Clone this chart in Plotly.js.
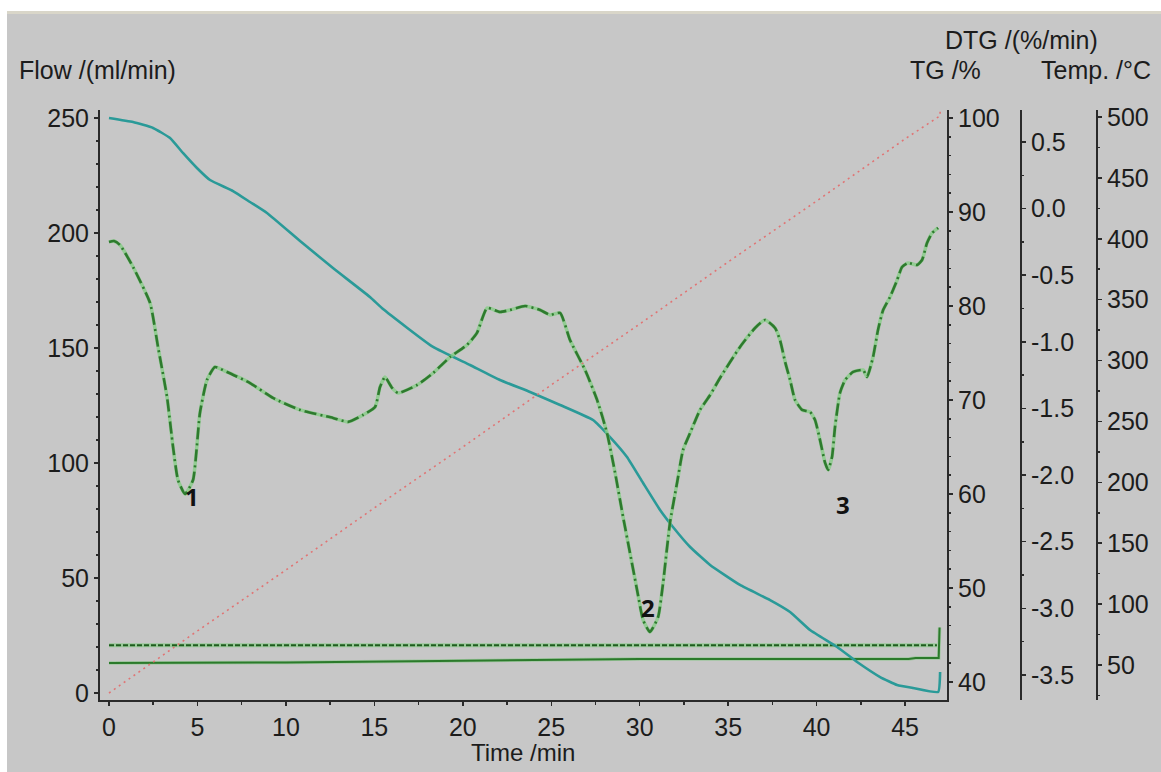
<!DOCTYPE html>
<html>
<head>
<meta charset="utf-8">
<script src="https://cdn.plot.ly/plotly-3.0.1.min.js"></script>
<style>
  html, body { margin: 0; padding: 0; background: #ffffff; }
  #chart { width: 1161px; height: 772px; }
  .topstrip { position: absolute; left: 0; top: 0; width: 1161px; height: 11px; background: #ffffff; z-index: 5; }
  .topline { position: absolute; left: 0; top: 11px; width: 1161px; height: 3px; background: #d9d6c9; z-index: 5; }
  .leftstrip { position: absolute; left: 0; top: 0; width: 7px; height: 772px; background: #ffffff; z-index: 5; }
</style>
</head>
<body>
<div id="chart"></div>
<div class="topstrip"></div>
<div class="topline"></div>
<div class="leftstrip"></div>
<script>
// ---- Data ----
// TG curve (teal), TG /%
const timeTG = [0, 1.36, 2.49, 3.45, 4.18, 4.97, 5.71, 7.01, 7.97, 8.93, 10.80, 12.66, 14.75, 15.49, 18.32, 20.41, 22.10, 23.80, 25.50, 27.36, 28.32, 29.28, 30.19, 31.15, 31.88, 32.85, 33.98, 35.67, 37.37, 38.50, 39.63, 41.16, 42.29, 43.59, 44.55, 45.45, 46.87, 46.98];
const tgPct  = [100.0, 99.57, 98.94, 97.87, 96.28, 94.68, 93.40, 92.23, 91.06, 89.89, 86.91, 84.04, 80.96, 79.68, 75.64, 73.72, 72.13, 70.85, 69.47, 67.87, 66.06, 63.94, 61.17, 58.30, 56.49, 54.36, 52.45, 50.32, 48.72, 47.45, 45.53, 43.72, 42.13, 40.53, 39.68, 39.36, 38.94, 41.06];

// DTG curve (green dash-dot), DTG /(%/min)
const timeDTG = [0, 0.28, 0.62, 1.36, 2.32, 2.77, 3.28, 3.62, 3.90, 4.30, 4.75, 5.14, 5.54, 5.99, 6.67, 7.97, 9.27, 10.80, 12.66, 13.51, 14.36, 15.04, 15.32, 15.60, 16.00, 16.34, 17.41, 18.32, 19.28, 20.24, 20.80, 21.37, 22.10, 22.67, 23.52, 24.37, 24.93, 25.50, 26.06, 26.91, 27.59, 28.15, 28.61, 29.06, 29.45, 29.85, 30.19, 30.58, 31.04, 31.32, 31.71, 32.11, 32.45, 32.85, 33.41, 33.98, 34.54, 35.67, 36.52, 37.09, 37.65, 37.93, 38.22, 38.50, 38.78, 39.18, 39.63, 39.91, 40.19, 40.48, 40.65, 40.87, 41.04, 41.32, 41.61, 42.06, 42.63, 42.85, 43.19, 43.47, 43.76, 44.15, 44.55, 44.83, 45.17, 45.68, 45.96, 46.24, 46.53, 46.87];
const dtgVal  = [-0.250, -0.243, -0.273, -0.438, -0.708, -1.038, -1.414, -1.789, -2.037, -2.142, -2.037, -1.534, -1.286, -1.189, -1.226, -1.309, -1.421, -1.511, -1.571, -1.601, -1.549, -1.489, -1.339, -1.264, -1.346, -1.384, -1.324, -1.234, -1.114, -1.023, -0.933, -0.746, -0.776, -0.761, -0.731, -0.761, -0.798, -0.783, -0.986, -1.211, -1.436, -1.684, -1.984, -2.314, -2.584, -2.862, -3.087, -3.177, -3.065, -2.810, -2.359, -2.059, -1.811, -1.684, -1.511, -1.399, -1.271, -1.038, -0.896, -0.836, -0.896, -0.986, -1.151, -1.286, -1.436, -1.511, -1.526, -1.586, -1.736, -1.909, -1.961, -1.864, -1.639, -1.384, -1.286, -1.226, -1.211, -1.264, -1.114, -0.911, -0.761, -0.663, -0.536, -0.438, -0.408, -0.423, -0.386, -0.258, -0.183, -0.145];

// Temperature (red dotted), Temp. /°C
const timeTemp = [0, 5, 10, 15, 20, 25, 30, 35, 40, 45, 46.98, 46.98];
const tempC    = [27, 78, 128, 179, 229, 280, 330, 381, 431, 482, 501, 511];

// Flow lines, Flow /(ml/min)
const timeFlowA = [0, 10, 20, 30, 40, 46.8];
const flowA     = [20.8, 20.8, 20.8, 20.8, 20.8, 20.8];
const timeFlowB = [0, 10, 20, 25, 30, 45.2, 45.6, 46.9, 46.95];
const flowB     = [13.0, 13.3, 14.0, 14.5, 14.8, 14.8, 15.2, 15.2, 28.5];

// Axis tick values / labels
const flowTicks = [0, 50, 100, 150, 200, 250];
const tgTicks = [40, 50, 60, 70, 80, 90, 100];
const dtgTicks = [-3.5, -3.0, -2.5, -2.0, -1.5, -1.0, -0.5, 0.0, 0.5];
const dtgLabels = ['-3.5', '-3.0', '-2.5', '-2.0', '-1.5', '-1.0', '-0.5', '0.0', '0.5'];
const tempTicks = [50, 100, 150, 200, 250, 300, 350, 400, 450, 500];
const timeTicks = [0, 5, 10, 15, 20, 25, 30, 35, 40, 45];

// ---- Plot ----
const FONT = 'Liberation Sans, Arial, sans-serif';
const TXT = '#1c1c1c';
const AX = '#2a2a2a';
const FS = 25;

const traces = [
  { x: timeFlowA, y: flowA, yaxis: 'y', mode: 'lines', line: { color: 'rgba(120,200,120,0.6)', width: 4 }, hoverinfo: 'skip' },
  { x: timeFlowA, y: flowA, yaxis: 'y', mode: 'lines', line: { color: '#1f5c1f', width: 2, dash: '5px,2px' }, hoverinfo: 'skip' },
  { x: timeFlowB, y: flowB, yaxis: 'y', mode: 'lines', line: { color: 'rgba(120,200,120,0.5)', width: 3.5 }, hoverinfo: 'skip' },
  { x: timeFlowB, y: flowB, yaxis: 'y', mode: 'lines', line: { color: '#2b7a2b', width: 2 }, hoverinfo: 'skip' },
  { x: timeTemp, y: tempC, yaxis: 'y4', mode: 'lines', line: { color: '#e07474', width: 1.6, dash: '2px,4px' }, hoverinfo: 'skip' },
  { x: timeDTG, y: dtgVal, yaxis: 'y3', mode: 'lines', line: { color: 'rgba(130,205,130,0.75)', width: 3.5, shape: 'spline', smoothing: 0.5 }, hoverinfo: 'skip' },
  { x: timeDTG, y: dtgVal, yaxis: 'y3', mode: 'lines', line: { color: '#2e7a2e', width: 2.6, dash: '12px,4px,2px,4px', shape: 'spline', smoothing: 0.5 }, hoverinfo: 'skip' },
  { x: timeTG, y: tgPct, yaxis: 'y2', mode: 'lines', line: { color: '#2a9a98', width: 2.6, shape: 'spline', smoothing: 0.4 }, hoverinfo: 'skip' }
];

const yBase = {
  showgrid: false, zeroline: false, showline: true, linecolor: AX, linewidth: 2,
  ticks: 'outside', ticklen: 4, tickwidth: 1.5, tickcolor: AX,
  tickfont: { family: FONT, size: FS, color: TXT }, fixedrange: true
};

const layout = {
  width: 1161, height: 772,
  margin: { l: 100, r: 51, t: 110, b: 72 },
  paper_bgcolor: '#c7c7c7', plot_bgcolor: 'rgba(0,0,0,0)',
  showlegend: false,
  xaxis: {
    domain: [0, 0.83861], range: [-0.509, 47.37],
    tickvals: timeTicks, ticktext: timeTicks.map(String),
    showgrid: false, zeroline: false, showline: true, linecolor: AX, linewidth: 2,
    ticks: 'outside', ticklen: 4, tickwidth: 1.5, tickcolor: AX,
    minor: { dtick: 2.5, tick0: 0, ticks: 'outside', ticklen: 3, tickcolor: AX },
    tickfont: { family: FONT, size: FS, color: TXT },
    fixedrange: true
  },
  yaxis: Object.assign({}, yBase, {
    range: [-3.04, 253.5], tickvals: flowTicks, ticktext: flowTicks.map(String),
    minor: { dtick: 10, tick0: 0, ticks: 'outside', ticklen: 2, tickcolor: AX }
  }),
  yaxis2: Object.assign({}, yBase, {
    overlaying: 'y', side: 'right', anchor: 'x',
    range: [38.085, 100.85], tickvals: tgTicks, ticktext: tgTicks.map(String),
    minor: { dtick: 2, tick0: 0, ticks: 'outside', ticklen: 2, tickcolor: AX }
  }),
  yaxis3: Object.assign({}, yBase, {
    overlaying: 'y', side: 'right', anchor: 'free', position: 0.91188,
    range: [-3.688, 0.740], tickvals: dtgTicks, ticktext: dtgLabels,
    minor: { dtick: 0.25, tick0: 0, ticks: 'outside', ticklen: 2, tickcolor: AX }
  }),
  yaxis4: Object.assign({}, yBase, {
    overlaying: 'y', side: 'right', anchor: 'free', position: 0.98713,
    range: [21.26, 505.75], tickvals: tempTicks, ticktext: tempTicks.map(String),
    minor: { dtick: 25, tick0: 0, ticks: 'outside', ticklen: 2, tickcolor: AX }
  }),
  annotations: [
    { text: 'Time /min', xref: 'paper', yref: 'paper', x: 0.4193, y: -0.0898, xanchor: 'center', yanchor: 'middle', showarrow: false, font: { family: FONT, size: 24, color: TXT } },
    { text: 'Flow /(ml/min)', xref: 'paper', yref: 'paper', x: -0.0822, y: 1.0678, xanchor: 'left', yanchor: 'middle', showarrow: false, font: { family: FONT, size: FS, color: TXT } },
    { text: 'DTG /(%/min)', xref: 'paper', yref: 'paper', x: 0.9119, y: 1.1186, xanchor: 'center', yanchor: 'middle', showarrow: false, font: { family: FONT, size: FS, color: TXT } },
    { text: 'TG /%', xref: 'paper', yref: 'paper', x: 0.8376, y: 1.0678, xanchor: 'center', yanchor: 'middle', showarrow: false, font: { family: FONT, size: FS, color: TXT } },
    { text: 'Temp. /°C', xref: 'paper', yref: 'paper', x: 0.9861, y: 1.0678, xanchor: 'center', yanchor: 'middle', showarrow: false, font: { family: FONT, size: FS, color: TXT } },
    { text: '<b>1</b>', xref: 'x', yref: 'y', x: 4.69, y: 85.5, showarrow: false, font: { family: 'Open Sans, Liberation Sans, sans-serif', size: 24, color: '#111' } },
    { text: '<b>2</b>', xref: 'x', yref: 'y', x: 30.47, y: 37.3, showarrow: false, font: { family: 'Open Sans, Liberation Sans, sans-serif', size: 24, color: '#111' } },
    { text: '<b>3</b>', xref: 'x', yref: 'y', x: 41.5, y: 82.0, showarrow: false, font: { family: 'Open Sans, Liberation Sans, sans-serif', size: 24, color: '#111' } }
  ]
};

Plotly.newPlot('chart', traces, layout, { displayModeBar: false, staticPlot: true });
</script>
</body>
</html>
